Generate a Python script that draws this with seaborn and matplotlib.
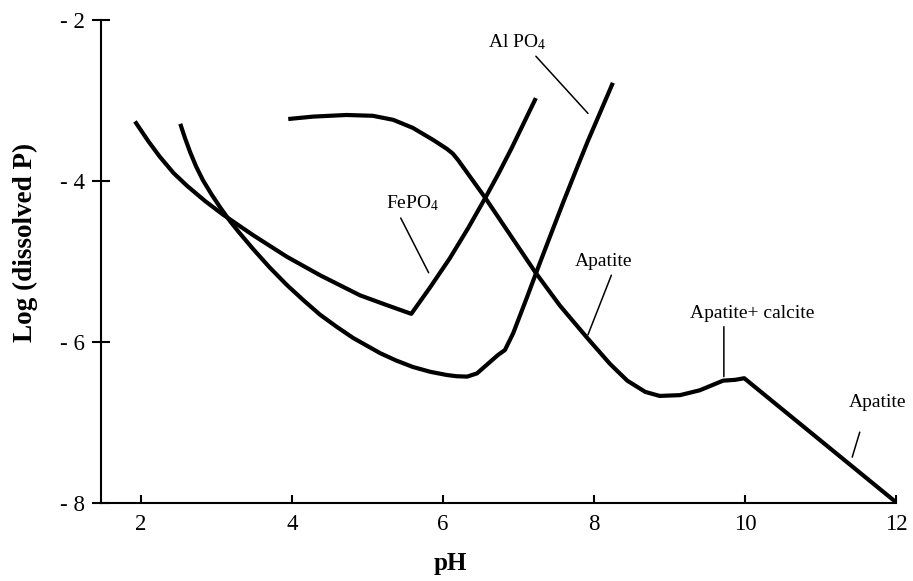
import numpy as np
import pandas as pd
import matplotlib
matplotlib.use("Agg")
import matplotlib.pyplot as plt
import seaborn as sns

# ---------------- data ----------------
fe_ph = [1.92, 2.10, 2.25, 2.43, 2.61, 2.85, 3.09, 3.48, 3.93, 4.37, 4.90, 5.25, 5.58,
         5.83, 6.09, 6.33, 6.56, 6.74, 6.91, 7.07, 7.23]
fe_logp = [-3.26, -3.51, -3.70, -3.90, -4.06, -4.25, -4.42, -4.67, -4.94, -5.17, -5.42, -5.54, -5.65,
           -5.32, -4.96, -4.59, -4.21, -3.90, -3.59, -3.28, -2.97]

al_ph = [2.52, 2.58, 2.65, 2.73, 2.82, 2.93, 3.05, 3.18, 3.30, 3.48, 3.70, 3.93, 4.15,
         4.37, 4.59, 4.81, 5.17, 5.38, 5.60, 5.83, 6.05, 6.18, 6.32, 6.45, 6.62, 6.73,
         6.82, 6.93, 7.11, 7.27, 7.45, 7.59, 7.76, 7.92, 8.09, 8.25]
al_logp = [-3.29, -3.46, -3.64, -3.82, -3.99, -4.16, -4.33, -4.50, -4.64, -4.84, -5.07, -5.29, -5.48,
           -5.66, -5.81, -5.95, -6.14, -6.23, -6.31, -6.37, -6.41, -6.425, -6.43, -6.39, -6.25, -6.16,
           -6.10, -5.89, -5.45, -5.05, -4.61, -4.27, -3.87, -3.50, -3.13, -2.78]

ap_ph = [3.95, 4.28, 4.72, 5.07, 5.34, 5.60, 5.87, 6.05, 6.13, 6.20, 6.56, 6.89, 7.22,
         7.55, 7.92, 8.21, 8.44, 8.68, 8.87, 9.14, 9.40, 9.71, 9.87, 9.99, 12.0]
ap_logp = [-3.23, -3.20, -3.18, -3.19, -3.24, -3.34, -3.49, -3.60, -3.66, -3.74, -4.21, -4.67, -5.13,
           -5.55, -5.96, -6.27, -6.48, -6.62, -6.67, -6.66, -6.60, -6.48, -6.47, -6.45, -7.99]

x_ticks = [2, 4, 6, 8, 10, 12]
x_tick_labels = ["2", "4", "6", "8", "10", "12"]
y_ticks = [-2, -4, -6, -8]
y_tick_labels = ["- 2", "- 4", "- 6", "- 8"]

label_texts = ["Al PO$_4$", "FePO$_4$", "Apatite", "Apatite+ calcite", "Apatite"]

# annotation placement (pH, logP): text anchor, leader start, leader end
label_pos = [(6.98, -2.345), (5.60, -4.34), (8.13, -5.06), (10.09, -5.70), (11.75, -6.81)]
leader_start = [(7.23, -2.45), (5.44, -4.46), (8.23, -5.17), (9.72, -5.81), (11.52, -7.12)]
leader_end = [(7.92, -3.16), (5.81, -5.14), (7.92, -5.91), (9.72, -6.43), (11.42, -7.43)]

# ---------------- style ----------------
sns.set_style("ticks")
plt.rcParams["font.family"] = ["Liberation Serif", "DejaVu Serif"]
plt.rcParams["mathtext.fontset"] = "custom"
plt.rcParams["mathtext.rm"] = "Liberation Serif"
plt.rcParams["mathtext.it"] = "Liberation Serif:italic"
plt.rcParams["mathtext.bf"] = "Liberation Serif:bold"
plt.rcParams["text.color"] = "black"
plt.rcParams["axes.labelcolor"] = "black"

df = pd.concat([
    pd.DataFrame({"pH": fe_ph, "logP": fe_logp, "curve": "FePO4"}),
    pd.DataFrame({"pH": al_ph, "logP": al_logp, "curve": "AlPO4"}),
    pd.DataFrame({"pH": ap_ph, "logP": ap_logp, "curve": "Apatite"}),
], ignore_index=True)

fig = plt.figure(figsize=(9.13, 5.81), dpi=100)
ax = fig.add_axes([101 / 913, 1 - 503 / 581, 795 / 913, 483 / 581])

sns.lineplot(data=df, x="pH", y="logP", hue="curve",
             palette=["black", "black", "black"], sort=False, estimator=None,
             legend=False, linewidth=3.0, ax=ax)
for ln in ax.lines:
    ln.set_clip_on(False)
    ln.set_solid_capstyle("butt")
    ln.set_solid_joinstyle("round")

ax.set_xlim(1.47, 12)
ax.set_ylim(-8, -2)
ax.set_xticks(x_ticks)
ax.set_xticklabels(x_tick_labels)
ax.set_yticks(y_ticks)
ax.set_yticklabels(y_tick_labels)

for s in ["top", "right"]:
    ax.spines[s].set_visible(False)
for s in ["left", "bottom"]:
    ax.spines[s].set_linewidth(1.5)
    ax.spines[s].set_color("black")

ax.tick_params(axis="y", direction="inout", length=13, width=1.5, pad=5,
               labelsize=16.5, colors="black")
ax.tick_params(axis="x", direction="in", length=6, width=1.5, pad=8,
               labelsize=16.5, colors="black")

ax.set_xlabel("pH", fontsize=18, fontweight="bold", color="black")
ax.set_ylabel("Log (dissolved P)", fontsize=19.5, fontweight="bold", color="black")
ax.xaxis.set_label_coords(0.44, -0.101)
ax.yaxis.set_label_coords(-0.079, 0.54)

for txt, (tx, ty), st, en in zip(label_texts, label_pos, leader_start, leader_end):
    ax.text(tx, ty, txt, fontsize=14, ha="center", va="baseline", color="black")
    ax.annotate("", xy=en, xytext=st,
                arrowprops=dict(arrowstyle="-", lw=1.1, color="black",
                                shrinkA=0, shrinkB=0))

ax.grid(False)
fig.savefig("out.png", dpi=100)
